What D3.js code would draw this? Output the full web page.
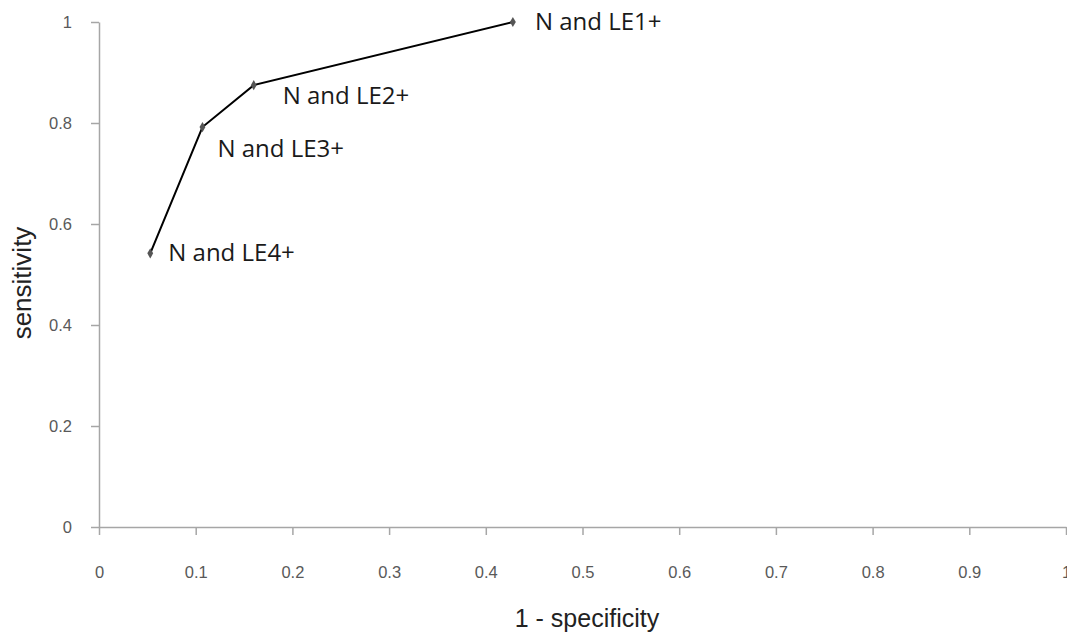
<!DOCTYPE html>
<html>
<head>
<meta charset="utf-8">
<script src="https://cdn.jsdelivr.net/npm/d3@7"></script>
<style>
  body { margin: 0; background: #fff; }
</style>
</head>
<body>
<div id="chart"></div>
<script>
// ROC points
var labels = ["N and LE4+", "N and LE3+", "N and LE2+", "N and LE1+"];
var fpr = [0.053, 0.107, 0.160, 0.428];          // 1 - specificity
var sens = [0.542, 0.792, 0.875, 1.0];           // sensitivity
var xTicks = [0, 0.1, 0.2, 0.3, 0.4, 0.5, 0.6, 0.7, 0.8, 0.9, 1];
var yTicks = [0, 0.2, 0.4, 0.6, 0.8, 1];

// where each label sits relative to its point (px)
var labelOffsets = [[18, 8], [15, 30], [29, 19], [22, 8]];

var width = 1067, height = 632;
var margin = {left: 99, right: 1, top: 22, bottom: 105};

var svg = d3.select("#chart").append("svg")
    .attr("width", width)
    .attr("height", height);

var x = d3.scaleLinear().domain([0, 1]).range([margin.left, width - margin.right]);
var y = d3.scaleLinear().domain([0, 1]).range([height - margin.bottom, margin.top]);

function fmt(d) { return d === 0 || d === 1 ? String(d) : d.toFixed(1); }

var xAxis = svg.append("g")
    .attr("transform", "translate(0," + y(0) + ")")
    .call(d3.axisBottom(x).tickValues(xTicks).tickFormat(fmt).tickSize(8).tickSizeOuter(0).tickPadding(31));

var yAxis = svg.append("g")
    .attr("transform", "translate(" + x(0) + ",0)")
    .call(d3.axisLeft(y).tickValues(yTicks).tickFormat(fmt).tickSize(8).tickSizeOuter(0).tickPadding(19));

[xAxis, yAxis].forEach(function(a) {
    a.select(".domain").attr("stroke", "#a6a6a6").attr("stroke-width", 1.5);
    a.selectAll(".tick line").attr("stroke", "#a6a6a6").attr("stroke-width", 1.5);
    a.selectAll(".tick text")
        .attr("font-family", "'Liberation Sans', Arial, sans-serif")
        .attr("font-size", "16.5px")
        .attr("fill", "#595959");
});

// ROC line
var pts = fpr.map(function(d, i) { return {x: d, y: sens[i], label: labels[i], off: labelOffsets[i]}; });

svg.append("path")
    .datum(pts)
    .attr("fill", "none")
    .attr("stroke", "#000")
    .attr("stroke-width", 2)
    .attr("d", d3.line().x(function(d) { return x(d.x); }).y(function(d) { return y(d.y); }));

svg.selectAll(".pt")
    .data(pts)
    .enter().append("path")
    .attr("class", "pt")
    .attr("transform", function(d) { return "translate(" + x(d.x) + "," + y(d.y) + ")"; })
    .attr("d", d3.symbol().type(d3.symbolDiamond).size(30))
    .attr("fill", "#555");

svg.selectAll(".lbl")
    .data(pts)
    .enter().append("text")
    .attr("class", "lbl")
    .attr("x", function(d) { return x(d.x) + d.off[0]; })
    .attr("y", function(d) { return y(d.y) + d.off[1]; })
    .attr("font-family", "'Open Sans', 'Noto Sans', sans-serif")
    .attr("font-size", "24px")
    .attr("fill", "#1a1a1a")
    .text(function(d) { return d.label; });

// axis titles
svg.append("text")
    .attr("x", 587)
    .attr("y", 627)
    .attr("text-anchor", "middle")
    .attr("font-family", "'Liberation Sans', Arial, sans-serif")
    .attr("font-size", "25px")
    .attr("fill", "#222")
    .text("1 - specificity");

svg.append("text")
    .attr("transform", "translate(31,283) rotate(-90)")
    .attr("text-anchor", "middle")
    .attr("font-family", "'Liberation Sans', Arial, sans-serif")
    .attr("font-size", "26px")
    .attr("fill", "#222")
    .text("sensitivity");
</script>
</body>
</html>
